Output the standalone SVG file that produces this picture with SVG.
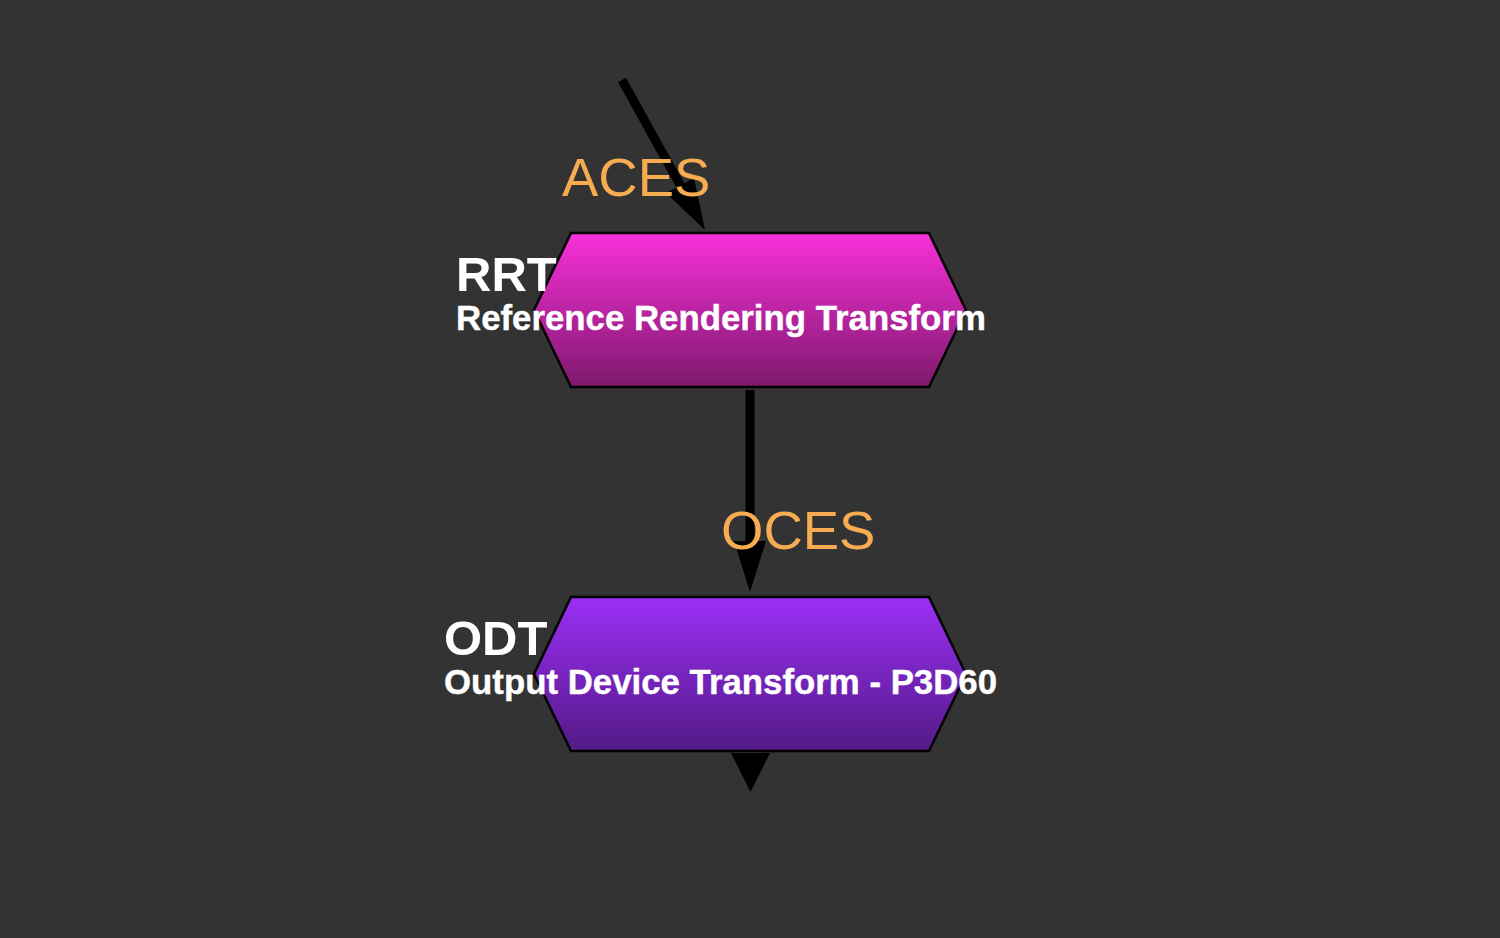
<svg xmlns="http://www.w3.org/2000/svg" width="1500" height="938" viewBox="0 0 1500 938">
  <defs>
    <linearGradient id="gradRRT" x1="0" y1="0" x2="0" y2="1">
      <stop offset="0" stop-color="#f830da"/>
      <stop offset="1" stop-color="#7e196d"/>
    </linearGradient>
    <linearGradient id="gradODT" x1="0" y1="0" x2="0" y2="1">
      <stop offset="0" stop-color="#9b2ff6"/>
      <stop offset="1" stop-color="#531a86"/>
    </linearGradient>
    <style>
      .shaft { stroke: #000; stroke-width: 9; fill: none; }
      .head { fill: #000; }
      .hex { stroke: #000; stroke-width: 2.5; stroke-linejoin: miter; }
      .title { font-family: "Liberation Sans", Arial, sans-serif; font-weight: bold; font-size: 49px; fill: #fff; }
      .subtitle { font-family: "Liberation Sans", Arial, sans-serif; font-weight: bold; font-size: 34.8px; fill: #fff; stroke: #fff; stroke-width: 0.4px; }
      .edge-label { font-family: "Liberation Sans", Arial, sans-serif; font-size: 54.5px; fill: #f7ac52; }
    </style>
  </defs>

  <rect width="1500" height="938" fill="#333333"/>

  <!-- connectors -->
  <g id="connectors">
    <g id="edge-in">
      <line class="shaft" x1="622" y1="80" x2="683" y2="190"/>
      <polygon class="head" points="705,230 694,178 666,193"/>
    </g>
    <g id="edge-rrt-odt">
      <line class="shaft" x1="750" y1="390" x2="750" y2="545"/>
      <polygon class="head" points="734,541 766,541 750,592"/>
    </g>
    <g id="edge-out">
      <polygon class="head" points="731,753 770,753 750.5,792"/>
    </g>
  </g>

  <!-- RRT node -->
  <g id="node-rrt">
    <polygon class="hex" fill="url(#gradRRT)" points="571,233 929,233 966,310 929,387 571,387 534,310"/>
    <text class="title" x="456" y="291">RRT</text>
    <text class="subtitle" x="456" y="330">Reference Rendering Transform</text>
  </g>

  <!-- ODT node -->
  <g id="node-odt">
    <polygon class="hex" fill="url(#gradODT)" points="571,597 929,597 966,674 929,751 571,751 534,674"/>
    <text class="title" x="444" y="655">ODT</text>
    <text class="subtitle" x="444" y="694">Output Device Transform - P3D60</text>
  </g>

  <!-- connector labels -->
  <g id="edge-labels">
    <text class="edge-label" x="562" y="196">ACES</text>
    <text class="edge-label" x="721" y="549">OCES</text>
  </g>
</svg>
